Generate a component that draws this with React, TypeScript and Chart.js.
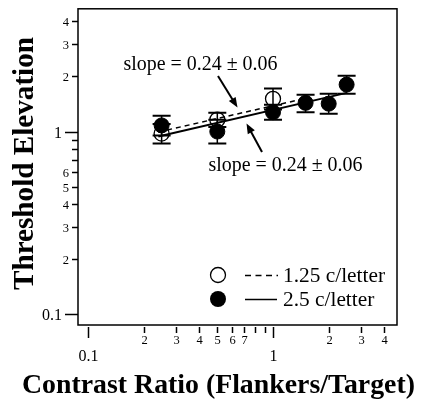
import React, { useEffect, useRef } from "react";
import { Chart, registerables } from "chart.js";

Chart.register(...registerables);

// ---- data ----
const contrastOpen = [0.25, 0.5, 1.0];
const elevOpen = [0.975, 1.16, 1.51];
const errOpenLow = [0.86, 1.06, 1.32];
const errOpenHigh = [1.1, 1.265, 1.72];

const contrastFilled = [0.25, 0.5, 1.0, 1.5, 2.0, 2.5];
const elevFilled = [1.08, 1.0, 1.275, 1.435, 1.42, 1.806];
const errFilledLow = [0.95, 0.86, 1.16, 1.275, 1.25, 1.61];
const errFilledHigh = [1.22, 1.16, 1.4, 1.59, 1.61, 2.02];

const fitOpenX = [0.24, 1.4];
const fitOpenY = [0.994, 1.495];
const fitFilledX = [0.24, 2.5];
const fitFilledY = [0.94, 1.627];

const seriesLabels = ["1.25 c/letter", "2.5 c/letter"];
const slopeText = "slope = 0.24 \u00b1 0.06";

const xTicks = [0.1, 0.2, 0.3, 0.4, 0.5, 0.6, 0.7, 0.8, 0.9, 1, 2, 3, 4];
const xTickLabels = ["0.1", "2", "3", "4", "5", "6", "7", "", "", "1", "2", "3", "4"];
const yTicks = [0.1, 0.2, 0.3, 0.4, 0.5, 0.6, 0.7, 0.8, 0.9, 1, 2, 3, 4];
const yTickLabels = ["0.1", "2", "3", "4", "5", "6", "", "", "", "1", "2", "3", "4"];
const majorTicks = [0.1, 1];

const xTitle = "Contrast Ratio (Flankers/Target)";
const yTitle = "Threshold Elevation";

const SERIF = '"Liberation Serif", "DejaVu Serif", serif';

function fitFont(ctx: CanvasRenderingContext2D, text: string, width: number, bold: boolean) {
  const w = bold ? "bold " : "";
  ctx.font = `${w}20px ${SERIF}`;
  const m = ctx.measureText(text).width;
  const size = (20 * width) / m;
  return `${w}${size.toFixed(2)}px ${SERIF}`;
}

function arrow(ctx: CanvasRenderingContext2D, x1: number, y1: number, x2: number, y2: number) {
  const ang = Math.atan2(y2 - y1, x2 - x1);
  const len = 10;
  const hw = 4;
  ctx.beginPath();
  ctx.moveTo(x1, y1);
  ctx.lineTo(x2 - Math.cos(ang) * len * 0.8, y2 - Math.sin(ang) * len * 0.8);
  ctx.lineWidth = 2;
  ctx.strokeStyle = "#000";
  ctx.stroke();
  ctx.beginPath();
  ctx.moveTo(x2, y2);
  ctx.lineTo(x2 - Math.cos(ang) * len - Math.sin(ang) * hw, y2 - Math.sin(ang) * len + Math.cos(ang) * hw);
  ctx.lineTo(x2 - Math.cos(ang) * len + Math.sin(ang) * hw, y2 - Math.sin(ang) * len - Math.cos(ang) * hw);
  ctx.closePath();
  ctx.fillStyle = "#000";
  ctx.fill();
}

const customPlugin = {
  id: "customDraw",
  beforeDatasetsDraw(chart: any) {
    const ctx: CanvasRenderingContext2D = chart.ctx;
    const xs = chart.scales.x;
    const ys = chart.scales.y;
    const bars = (xv: number[], lo: number[], hi: number[]) => {
      xv.forEach((x, i) => {
        const px = xs.getPixelForValue(x);
        const pl = ys.getPixelForValue(lo[i]);
        const ph = ys.getPixelForValue(hi[i]);
        ctx.save();
        ctx.strokeStyle = "#000";
        ctx.lineWidth = 1.5;
        ctx.beginPath();
        ctx.moveTo(px, pl);
        ctx.lineTo(px, ph);
        ctx.stroke();
        ctx.lineWidth = 2;
        ctx.beginPath();
        ctx.moveTo(px - 9, pl);
        ctx.lineTo(px + 9, pl);
        ctx.moveTo(px - 9, ph);
        ctx.lineTo(px + 9, ph);
        ctx.stroke();
        ctx.restore();
      });
    };
    bars(contrastOpen, errOpenLow, errOpenHigh);
    bars(contrastFilled, errFilledLow, errFilledHigh);
  },
  afterDraw(chart: any) {
    const ctx: CanvasRenderingContext2D = chart.ctx;
    const xs = chart.scales.x;
    const ys = chart.scales.y;
    const a = chart.chartArea;
    ctx.save();
    ctx.fillStyle = "#000";
    ctx.strokeStyle = "#000";

    // frame
    ctx.lineWidth = 1.5;
    ctx.strokeRect(a.left, a.top, a.right - a.left, a.bottom - a.top);

    // y ticks
    ctx.lineWidth = 1.5;
    yTicks.forEach((v, i) => {
      const py = Math.round(ys.getPixelForValue(v)) + 0.5;
      const major = majorTicks.includes(v);
      const len = major ? 13 : 6;
      ctx.beginPath();
      ctx.moveTo(a.left - len, py);
      ctx.lineTo(a.left, py);
      ctx.stroke();
      const lab = yTickLabels[i];
      if (lab) {
        ctx.font = major ? `16px ${SERIF}` : `12.5px ${SERIF}`;
        ctx.textAlign = "right";
        ctx.textBaseline = "middle";
        ctx.fillText(lab, a.left - len - 3, py + 1);
      }
    });

    // x ticks
    xTicks.forEach((v, i) => {
      const px = Math.round(xs.getPixelForValue(v)) + 0.5;
      const major = majorTicks.includes(v);
      const len = major ? 11 : 6;
      ctx.beginPath();
      ctx.moveTo(px, a.bottom + 2);
      ctx.lineTo(px, a.bottom + 2 + len);
      ctx.stroke();
      const lab = xTickLabels[i];
      if (lab) {
        ctx.textAlign = "center";
        ctx.textBaseline = "alphabetic";
        if (major) {
          ctx.font = `16px ${SERIF}`;
          ctx.fillText(lab, px, a.bottom + 36);
        } else {
          ctx.font = `12.5px ${SERIF}`;
          ctx.fillText(lab, px, a.bottom + 19);
        }
      }
    });

    // axis titles
    ctx.textAlign = "center";
    ctx.textBaseline = "alphabetic";
    ctx.font = fitFont(ctx, xTitle, 393, true);
    ctx.fillText(xTitle, 218.5, 393);
    ctx.save();
    ctx.translate(33, 163.5);
    ctx.rotate(-Math.PI / 2);
    ctx.font = fitFont(ctx, yTitle, 253, true);
    ctx.fillText(yTitle, 0, 0);
    ctx.restore();

    // annotations
    ctx.textAlign = "left";
    ctx.font = fitFont(ctx, slopeText, 154, false);
    ctx.fillText(slopeText, 123.5, 70);
    ctx.fillText(slopeText, 208.5, 171);
    arrow(ctx, 218, 76, 237.5, 107.5);
    arrow(ctx, 262, 152, 246.5, 123.5);

    // legend
    const lx = 218;
    const rows = [275, 299];
    // open
    ctx.beginPath();
    ctx.arc(lx, rows[0], 7.5, 0, Math.PI * 2);
    ctx.fillStyle = "#fff";
    ctx.fill();
    ctx.lineWidth = 1.3;
    ctx.stroke();
    ctx.fillStyle = "#000";
    ctx.beginPath();
    ctx.arc(lx, rows[1], 8, 0, Math.PI * 2);
    ctx.fill();
    ctx.lineWidth = 1.5;
    ctx.setLineDash([6, 4.5]);
    ctx.beginPath();
    ctx.moveTo(245, rows[0] + 0.5);
    ctx.lineTo(278, rows[0] + 0.5);
    ctx.stroke();
    ctx.setLineDash([]);
    ctx.beginPath();
    ctx.moveTo(245, rows[1] + 0.5);
    ctx.lineTo(277, rows[1] + 0.5);
    ctx.stroke();
    ctx.font = fitFont(ctx, seriesLabels[0], 102, false);
    ctx.fillText(seriesLabels[0], 283, 281.5);
    ctx.fillText(seriesLabels[1], 283, 305.5);

    ctx.restore();
  },
};

export default function App() {
  const ref = useRef<HTMLCanvasElement | null>(null);
  useEffect(() => {
    if (!ref.current) return;
    const chart = new Chart(ref.current, {
      type: "scatter",
      data: {
        datasets: [
          {
            label: seriesLabels[1],
            data: contrastFilled.map((x, i) => ({ x, y: elevFilled[i] })),
            pointRadius: 7.5,
            pointBackgroundColor: "#000",
            pointBorderColor: "#000",
            pointBorderWidth: 1,
            order: 0,
          },
          {
            label: "fit 2.5",
            data: fitFilledX.map((x, i) => ({ x, y: fitFilledY[i] })),
            showLine: true,
            pointRadius: 0,
            borderColor: "#000",
            borderWidth: 2,
            order: 1,
          },
          {
            label: "fit 1.25",
            data: fitOpenX.map((x, i) => ({ x, y: fitOpenY[i] })),
            showLine: true,
            pointRadius: 0,
            borderColor: "#000",
            borderWidth: 1.5,
            borderDash: [5, 4],
            order: 1,
          },
          {
            label: seriesLabels[0],
            data: contrastOpen.map((x, i) => ({ x, y: elevOpen[i] })),
            pointRadius: 7.5,
            pointBackgroundColor: "rgba(255,255,255,0)",
            pointBorderColor: "#000",
            pointBorderWidth: 1.3,
            order: 2,
          },
        ],
      },
      options: {
        responsive: false,
        animation: false,
        devicePixelRatio: 1,
        layout: { padding: { left: 78, top: 8, right: 37, bottom: 74 } },
        plugins: { legend: { display: false }, tooltip: { enabled: false } },
        scales: {
          x: { type: "logarithmic", min: 0.0883, max: 4.68, display: false },
          y: { type: "logarithmic", min: 0.0875, max: 4.69, display: false },
        },
      },
      plugins: [customPlugin],
    } as any);
    return () => chart.destroy();
  }, []);
  return (
    <div style={{ position: "absolute", left: 0, top: 0, width: 434, height: 399, background: "#fff" }}>
      <canvas ref={ref} width={434} height={399} style={{ display: "block" }} />
    </div>
  );
}
